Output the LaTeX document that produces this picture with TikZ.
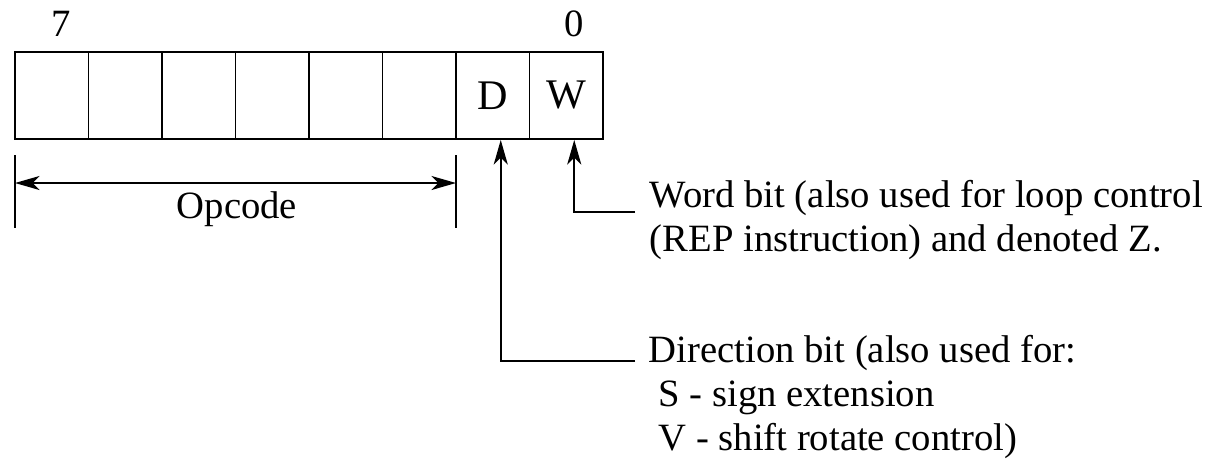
\documentclass[tikz,border=0pt]{standalone}
\usepackage{fontspec}
\setmainfont{Liberation Serif}
\usepackage{tikz}
\usetikzlibrary{arrows.meta}

\begin{document}
\begin{tikzpicture}[x=0.02cm, y=-0.02cm, line width=1.1pt,
	cell/.style={draw, minimum width=1.47cm, minimum height=1.74cm, inner sep=0pt},
	txt/.style={inner sep=0pt, font=\fontsize{22pt}{25pt}\selectfont},
	tip/.style={-{Stealth[length=14pt, width=8pt, inset=4pt]}},
	tips/.style={{Stealth[length=14pt, width=8pt, inset=4pt]}-{Stealth[length=14pt, width=8pt, inset=4pt]}}]
\useasboundingbox (0, 0) rectangle (1218, 458);
\node[cell] (c7) at (51.75, 95.5) {};
\node[cell] (c6) at (125.25, 95.5) {};
\node[cell] (c5) at (198.75, 95.5) {};
\node[cell] (c4) at (272.25, 95.5) {};
\node[cell] (c3) at (345.75, 95.5) {};
\node[cell] (c2) at (419.25, 95.5) {};
\node[cell, txt, font=\fontsize{24pt}{26pt}\selectfont] (c1) at (492.75, 95.5) {D};
\node[cell, txt, font=\fontsize{24pt}{26pt}\selectfont] (c0) at (566.25, 95.5) {W};
\node[txt] (hi) at (61, 24) {7};
\node[txt] (lo) at (574, 24) {0};
% opcode span
\draw (15, 155) -- (15, 228);
\draw (456, 155) -- (456, 228);
\coordinate (opl) at (15, 183);
\coordinate (opr) at (456, 183);
\draw[tips] (opl) -- (opr);
\node[txt, anchor=base] (op) at (237, 218) {Opcode};
% notes
\node[txt, anchor=base west, align=left] (word) at (649, 251)
	{Word bit (also used for loop control\\(REP instruction) and denoted Z.};
\node[txt, anchor=base west, align=left] (dir) at (648, 450)
	{Direction bit (also used for:\\\hspace*{0.25em}S - sign extension\\\hspace*{0.25em}V - shift rotate control)};
\coordinate (wend) at (635, 212);
\coordinate (dend) at (635, 361);
\draw[tip] (wend) -| ([xshift=0.16cm]c0.south);
\draw[tip] (dend) -| ([xshift=0.16cm]c1.south);
\end{tikzpicture}
\end{document}
